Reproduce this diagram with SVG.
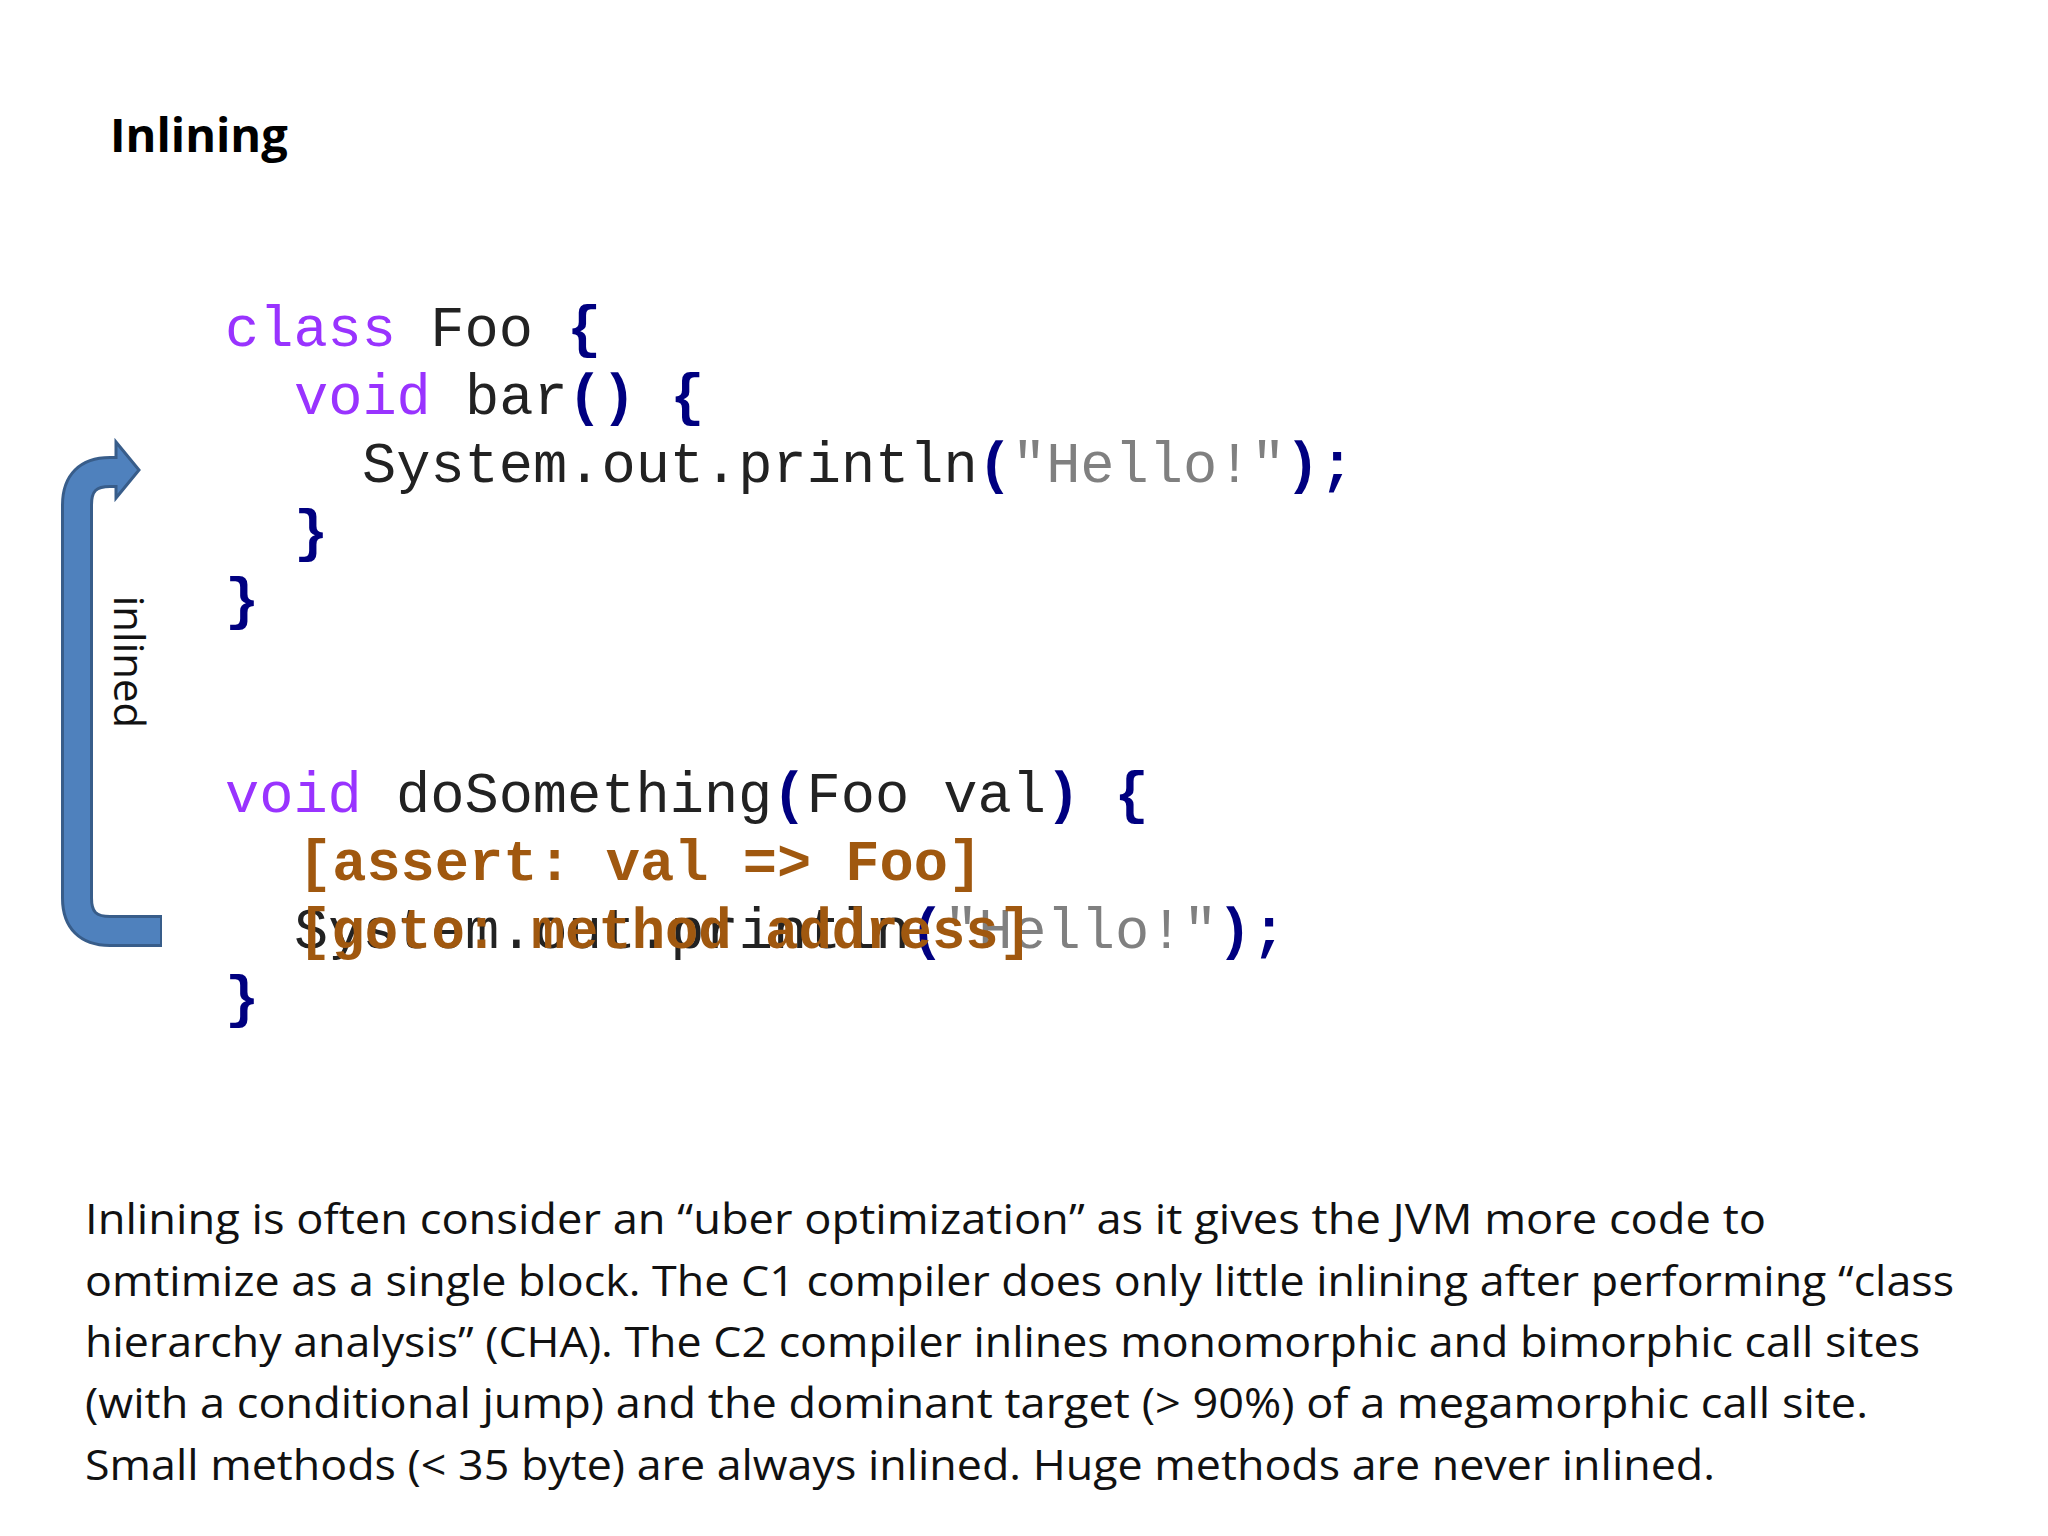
<svg xmlns="http://www.w3.org/2000/svg" width="2048" height="1536" viewBox="0 0 2048 1536">
<style>
.code{font-family:"Liberation Mono",monospace;font-size:57px;white-space:pre}
.kw{fill:#9933ff}.br{fill:#000080;font-weight:bold}.st{fill:#808080}.tx{fill:#222}
.asr{fill:#a0580f;font-weight:bold}
.p{font-family:"Open Sans","Noto Sans",sans-serif;font-size:42px;fill:#111}
</style>
<rect width="2048" height="1536" fill="#fff"/>
<text x="110" y="152" font-family="Open Sans,sans-serif" font-weight="bold" font-size="47" fill="#000">Inlining</text>
<g id="code" class="code" xml:space="preserve">
<text x="225" y="346"><tspan class="kw">class</tspan><tspan class="tx"> Foo </tspan><tspan class="br">{</tspan></text>
<text x="294" y="414"><tspan class="kw">void</tspan><tspan class="tx"> bar</tspan><tspan class="br">()</tspan><tspan class="tx"> </tspan><tspan class="br">{</tspan></text>
<text x="362" y="482"><tspan class="tx">System.out.println</tspan><tspan class="br">(</tspan><tspan class="st">"Hello!"</tspan><tspan class="br">)</tspan><tspan class="br">;</tspan></text>
<text x="294" y="550" class="br">}</text>
<text x="225" y="618" class="br">}</text>
<text x="225" y="812"><tspan class="kw">void</tspan><tspan class="tx"> doSomething</tspan><tspan class="br">(</tspan><tspan class="tx">Foo val</tspan><tspan class="br">)</tspan><tspan class="tx"> </tspan><tspan class="br">{</tspan></text>
<text x="294" y="948"><tspan class="tx">System.out.println</tspan><tspan class="br">(</tspan><tspan class="st">"Hello!"</tspan><tspan class="br">)</tspan><tspan class="br">;</tspan></text>
<text x="298" y="880" class="asr">[assert: val =&gt; Foo]</text>
<text x="298" y="948" class="asr" textLength="734" lengthAdjust="spacingAndGlyphs">[goto: method address]</text>
<text x="225" y="1016" class="br">}</text>
</g>
<g id="arrow">
<path d="M162,931 H110 Q77,931 77,898 V505 Q77,472 110,472 H120" fill="none" stroke="#385d8a" stroke-width="32"/>
<polygon points="116,442 139,470 116,498" fill="#4f81bd" stroke="#385d8a" stroke-width="3"/>
<path d="M160,931 H110 Q77,931 77,898 V505 Q77,472 110,472 H119" fill="none" stroke="#4f81bd" stroke-width="26"/>
<text transform="translate(114,662) rotate(90)" text-anchor="middle" font-family="Open Sans,sans-serif" font-size="42" fill="#111">inlined</text>
</g>
<g id="desc" class="p">
<text x="85" y="1234" textLength="1681" lengthAdjust="spacingAndGlyphs">Inlining is often consider an “uber optimization” as it gives the JVM more code to</text>
<text x="85" y="1296" textLength="1869" lengthAdjust="spacingAndGlyphs">omtimize as a single block. The C1 compiler does only little inlining after performing “class</text>
<text x="85" y="1357" textLength="1835" lengthAdjust="spacingAndGlyphs">hierarchy analysis” (CHA). The C2 compiler inlines monomorphic and bimorphic call sites</text>
<text x="85" y="1418" textLength="1783" lengthAdjust="spacingAndGlyphs">(with a conditional jump) and the dominant target (&gt; 90%) of a megamorphic call site.</text>
<text x="85" y="1480" textLength="1630" lengthAdjust="spacingAndGlyphs">Small methods (&lt; 35 byte) are always inlined. Huge methods are never inlined.</text>
</g>
</svg>
